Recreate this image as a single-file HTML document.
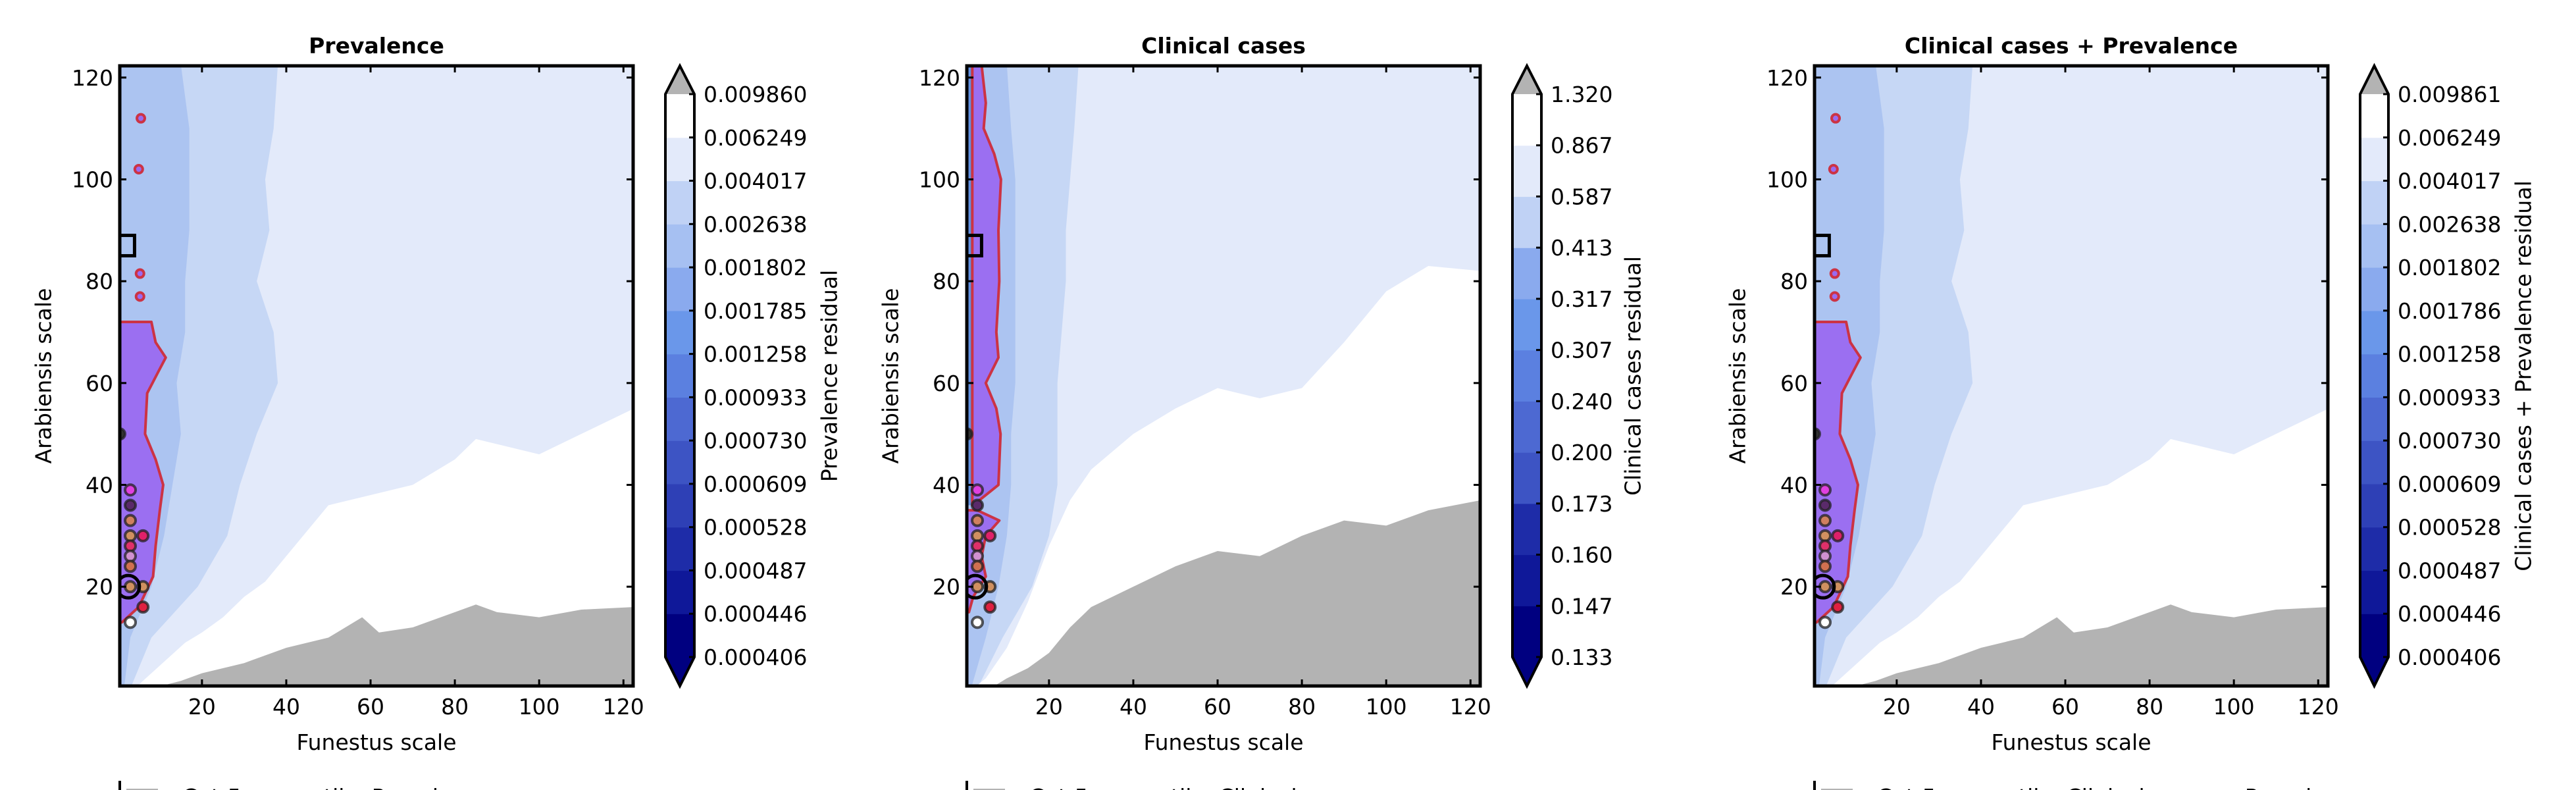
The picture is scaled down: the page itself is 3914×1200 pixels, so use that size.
<!DOCTYPE html>
<html><head><meta charset="utf-8"><style>
html,body{margin:0;padding:0;background:#fff;width:3914px;height:1200px;overflow:hidden}
svg{display:block;font-family:"DejaVu Sans","Liberation Sans",sans-serif}
</style></head><body>
<svg id="fig" width="3914" height="1200" viewBox="0 0 3914 1200"></svg>
<script>
// ---- data (top-level arrays) ----
const xTicks=[20,40,60,80,100,120];
const yTicks=[20,40,60,80,100,120];
const cbColors=["#000080","#0f1899","#1e2ca8","#2e40b6","#3d54c4","#4d69d2","#5b80e0","#6a97ea","#8aaaee","#a6c0f2","#c0d2f5","#e3eafa","#ffffff"];
const cbLabels1=["0.000406","0.000446","0.000487","0.000528","0.000609","0.000730","0.000933","0.001258","0.001785","0.001802","0.002638","0.004017","0.006249","0.009860"];
const cbLabels2=["0.133","0.147","0.160","0.173","0.200","0.240","0.307","0.317","0.413","0.587","0.867","1.320"];
const cbLabels3=["0.000406","0.000446","0.000487","0.000528","0.000609","0.000730","0.000933","0.001258","0.001786","0.001802","0.002638","0.004017","0.006249","0.009861"];
// panel 1 (Prevalence)
const p1GrayX=[8,15,20,30,40,50,58,62,70,80,85,90,100,110,122.5];
const p1GrayY=[0,1.5,3,5,8,10,14,11,12,15,16.5,15,14,15.5,16];
const p1WhiteX=[4,8,12,16,20,25,30,35,40,50,60,70,80,85,90,100,110,122.5];
const p1WhiteY=[0,3,6,9,11,14,18,21,26,36,38,40,45,49,48,46,50,55];
const bandY=[0,10,20,30,40,50,60,70,80,90,100,110,122.5];
const p1Band2=[3,8,19,26,29,33,38,37,33,36,35,37,38];
const p1Band1=[1.5,3,8,11,13,15,14,16,16,17,17,17,15];
const p1PurpY=[13,16,22,28,35,40,45,50,58,62,65,68,72];
const p1PurpX=[1,5,8.4,9,10,10.8,9,6.5,7,9.5,11.4,9,8];
// panel 2 (Clinical cases)
const p2GrayX=[6,10,15,20,25,30,40,50,60,70,80,90,100,110,122.5];
const p2GrayY=[0,2,4,7,12,16,20,24,27,26,30,33,32,35,37];
const p2WhiteX=[2,5,10,15,20,25,30,40,50,60,70,80,90,100,110,122.5];
const p2WhiteY=[0,2,8,17,28,37,43,50,55,59,57,59,68,78,83,82];
const p2Band2=[3,9,16,20,22,22,22,23,24,24,25,26,27];
const p2Band1=[1.5,5,8,10,11,11,12,12,12,12,12,11,10];
const p2PurpY=[36,40,50,55,60,65,70,80,90,100,105,110,115,122.5];
const p2PurpX=[2,8,8.5,7.5,5,8,7.5,8.2,8,8.6,7,4.5,5,4];
const p2BlobY=[15,18,22,26,30,33,35];
const p2BlobX=[1,2,5,4,5,8.2,3];
// markers
const mkX=[0.5,3,3,3,3,6,3,3,3,3,6,6,3];
const mkY=[50,39,36,33,30,30,28,26,24,20,20,16,13];
const mkC=["#333","#e040e0","#5a2a6a","#d08060","#d09060","#e0206a","#e0306a","#d090d0","#d07050","#d09060","#d09060","#e02040","#ffffff"];

const NS="http://www.w3.org/2000/svg";
const svg=document.getElementById('fig');
function el(tag,attrs,parent){const e=document.createElementNS(NS,tag);for(const k in attrs)e.setAttribute(k,attrs[k]);(parent||svg).appendChild(e);return e;}

const panels=[
 {L:182,R:962,title:"Prevalence",cbL:1011,cbR:1055,cbLab:cbLabels1,cbTitle:"Prevalence residual",cbTitleX:1262,ylabX:68,gx:p1GrayX,gy:p1GrayY,wx:p1WhiteX,wy:p1WhiteY,b1:p1Band1,b2:p1Band2,py:p1PurpY,px:p1PurpX,leg:"Cut-5-percentile, Prevalence",name:"prevalence"},
 {L:1469,R:2249,title:"Clinical cases",cbL:2298,cbR:2342,cbLab:cbLabels2,cbTitle:"Clinical cases residual",cbTitleX:2483,ylabX:1355,gx:p2GrayX,gy:p2GrayY,wx:p2WhiteX,wy:p2WhiteY,b1:p2Band1,b2:p2Band2,py:p2PurpY,px:p2PurpX,blobY:p2BlobY,blobX:p2BlobX,leg:"Cut-5-percentile, Clinical cases",name:"clinical"},
 {L:2757,R:3537,title:"Clinical cases + Prevalence",cbL:3586,cbR:3629,cbLab:cbLabels3,cbTitle:"Clinical cases + Prevalence residual",cbTitleX:3836,ylabX:2642,gx:p1GrayX,gy:p1GrayY,wx:p1WhiteX,wy:p1WhiteY,b1:p1Band1,b2:p1Band2,py:p1PurpY,px:p1PurpX,leg:"Cut-5-percentile, Clinical cases + Prevalence",name:"combined"}
];
const T=100,B=1042,D0=0.5,D1=122.3,FS=33;

panels.forEach((p,i)=>{
 const sx=v=>p.L+(v-D0)/(D1-D0)*(p.R-p.L);
 const sy=v=>B-(v-D0)/(D1-D0)*(B-T);
 const g=el('g',{});
 
 
 const cid='clip'+i;
 const cp=el('clipPath',{id:cid},g);el('rect',{x:p.L,y:T,width:p.R-p.L,height:B-T},cp);
 const plot=el('g',{'clip-path':'url(#'+cid+')'},g);
 
 
 el('rect',{x:p.L,y:T,width:p.R-p.L,height:B-T,fill:"#e3eafa"},plot);
 function band(arr,color,name){
  let pts=[[sx(0),sy(bandY[0]-1)]];
  arr.forEach((v,k)=>pts.push([sx(v),sy(bandY[k])]));
  pts.push([sx(arr[arr.length-1]),sy(125)],[sx(0),sy(125)]);
  const e=el('polygon',{points:pts.map(q=>q.join(',')).join(' '),fill:color},plot);
  
  
 }
 band(p.b2,"#c6d7f5","contour-band-light");
 band(p.b1,"#acc4f1","contour-band-mid");
 function lower(xs,ys,color,name){
  let pts=[[sx(xs[0]),sy(-1)]];
  xs.forEach((v,k)=>pts.push([sx(v),sy(ys[k])]));
  pts.push([sx(125),sy(ys[ys.length-1])],[sx(125),sy(-1)]);
  const e=el('polygon',{points:pts.map(q=>q.join(',')).join(' '),fill:color},plot);
  
  
 }
 lower(p.wx,p.wy,"#ffffff","white-region");
 lower(p.gx,p.gy,"#b3b3b3","gray-region");
 if(i===1){
  const s=el('rect',{x:sx(0),y:T,width:sx(1.8)-sx(0),height:sy(36)-T,fill:"#6490e0"},plot);
  
  
 }
 function purple(ys,xs,x0,name){
  let pts=[[sx(x0),sy(ys[0])]];
  ys.forEach((v,k)=>pts.push([sx(xs[k]),sy(v)]));
  pts.push([sx(x0),sy(ys[ys.length-1])]);
  const e=el('polygon',{points:pts.map(q=>q.join(',')).join(' '),fill:"#9a6af0","fill-opacity":"0.95",stroke:"#cc3344","stroke-width":4,"stroke-linejoin":"round"},plot);
  
  
 }
 purple(p.py,p.px,i===1?1.8:0.5,"significant-region");
 if(p.blobY) purple(p.blobY,p.blobX,0.5,"significant-region-lower");
 if(i!==1){
  [[5.5,112],[5,102],[5.3,81.5],[5.3,77]].forEach(q=>{
   const c=el('circle',{cx:sx(q[0]),cy:sy(q[1]),r:6,fill:"#9a6af0",stroke:"#cc3344","stroke-width":4},plot);
   
   
  });
 }
 mkX.forEach((v,k)=>{
  const c=el('circle',{cx:sx(v),cy:sy(mkY[k]),r:8,fill:mkC[k],stroke:"#222","stroke-opacity":"0.75","stroke-width":4},plot);
  
  
 });
 const st=el('circle',{cx:sx(2.5),cy:sy(20),r:17,fill:"none",stroke:"#000","stroke-width":5},plot);
 
 
 const sq=el('rect',{x:sx(0.5),y:sy(89),width:sx(4)-sx(0.5),height:sy(85)-sy(89),fill:"none",stroke:"#000","stroke-width":5},plot);
 
 
 // ticks
 xTicks.forEach(v=>{
  el('line',{x1:sx(v),x2:sx(v),y1:B,y2:B-10,stroke:"#000","stroke-width":3},g);
  el('line',{x1:sx(v),x2:sx(v),y1:T,y2:T+10,stroke:"#000","stroke-width":3},g);
  const t=el('text',{x:sx(v),y:1085,'font-size':FS,'text-anchor':'middle'},g);t.textContent=v;
  
  
 });
 yTicks.forEach(v=>{
  el('line',{x1:p.L,x2:p.L+10,y1:sy(v),y2:sy(v),stroke:"#000","stroke-width":3},g);
  el('line',{x1:p.R,x2:p.R-10,y1:sy(v),y2:sy(v),stroke:"#000","stroke-width":3},g);
  const t=el('text',{x:p.L-10,y:sy(v)+12,'font-size':FS,'text-anchor':'end'},g);t.textContent=v;
  
  
 });
 const fr=el('rect',{x:p.L,y:T,width:p.R-p.L,height:B-T,fill:"none",stroke:"#000","stroke-width":5},g);
 
 
 const ti=el('text',{x:(p.L+p.R)/2,y:81,'font-size':FS,'font-weight':'bold','text-anchor':'middle'},g);ti.textContent=p.title;
 
 
 const xl=el('text',{x:(p.L+p.R)/2,y:1139,'font-size':FS,'text-anchor':'middle'},g);xl.textContent="Funestus scale";
 
 
 const yl=el('text',{x:p.ylabX,y:571,'font-size':FS,'text-anchor':'middle',transform:`rotate(-90 ${p.ylabX} 571)`,'dominant-baseline':'middle'},g);yl.textContent="Arabiensis scale";
 
 
 // colorbar
 const cb=el('g',{},g);
 
 
 const n=p.cbLab.length-1, ct=143, cbb=998, bh=(cbb-ct)/n;
 for(let k=0;k<n;k++){
  const ci=Math.round(k*(cbColors.length-1)/(n-1));
  const r=el('rect',{x:p.cbL,y:cbb-(k+1)*bh,width:p.cbR-p.cbL,height:bh+0.6,fill:cbColors[ci]},cb);
  
  
 }
 const mid=(p.cbL+p.cbR)/2;
 el('polygon',{points:`${p.cbL},${ct} ${mid},${T} ${p.cbR},${ct}`,fill:"#b3b3b3"},cb);
 el('polygon',{points:`${p.cbL},${cbb} ${mid},${B} ${p.cbR},${cbb}`,fill:"#000080"},cb);
 el('polygon',{points:`${p.cbL},${ct} ${mid},${T} ${p.cbR},${ct} ${p.cbR},${cbb} ${mid},${B} ${p.cbL},${cbb}`,fill:"none",stroke:"#000","stroke-width":4},cb);
 p.cbLab.forEach((lab,k)=>{
  const y=cbb-k*bh;
  el('line',{x1:p.cbR,x2:p.cbR-8,y1:y,y2:y,stroke:"#000","stroke-width":3},cb);
  const t=el('text',{x:p.cbR+14,y:y+12,'font-size':FS},cb);t.textContent=lab;
  
  
 });
 const ctl=el('text',{x:p.cbTitleX,y:571,'font-size':FS,'text-anchor':'middle','dominant-baseline':'middle',transform:`rotate(-90 ${p.cbTitleX} 571)`},cb);ctl.textContent=p.cbTitle;
 
 
 // legend (cut off)
 const lg=el('g',{},g);
 
 
 el('line',{x1:p.L,x2:p.L,y1:1186,y2:1200,stroke:"#000","stroke-width":4},lg);
 el('rect',{x:p.L+10,y:1198,width:48,height:4,fill:"#b3b3b3"},lg);
 const lt=el('text',{x:p.L+95,y:1222,'font-size':FS},lg);lt.textContent=p.leg;
 
 
});
</script>
</body></html>
